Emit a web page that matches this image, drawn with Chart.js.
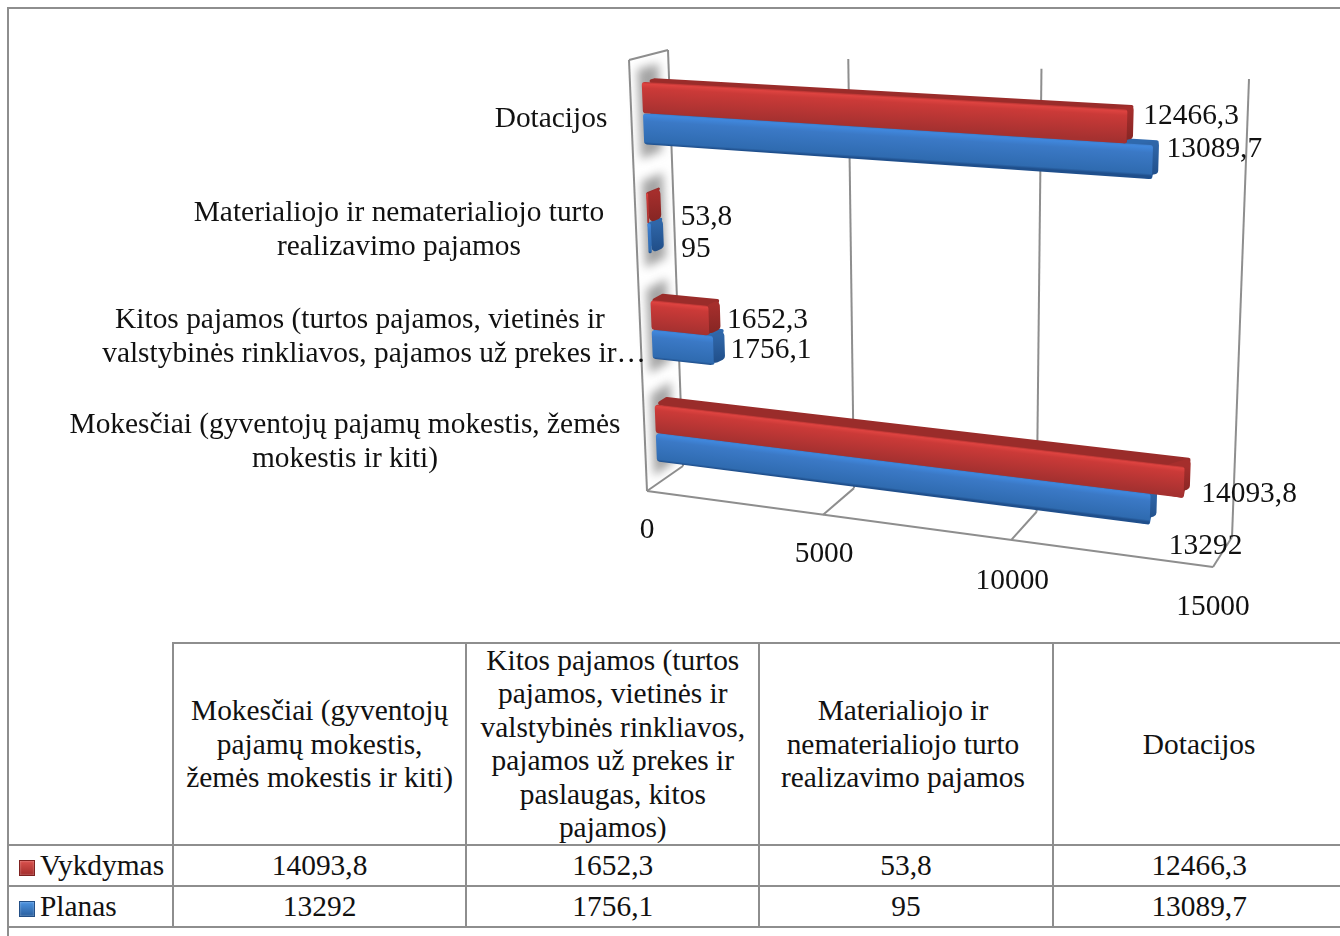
<!DOCTYPE html>
<html>
<head>
<meta charset="utf-8">
<script src="https://cdn.jsdelivr.net/npm/chart.js@4"></script>
<style>
  html, body { margin: 0; padding: 0; background: #fff; width: 1340px; height: 936px; overflow: hidden; }
  #frame { position: absolute; left: 7px; top: 7px; width: 1400px; height: 1000px; border: 2px solid #8e8e8e; box-sizing: border-box; }
  #chart { position: absolute; left: 0; top: 0; }
  #data-table { position: absolute; left: 7px; top: 642px; width: 1337.8px; table-layout: fixed; border-collapse: collapse;
    font: 29.4px/33.4px "Liberation Serif", serif; color: #111; }
  #data-table td { border: 2px solid #8e8e8e; text-align: center; vertical-align: middle; padding: 0; white-space: pre-line; box-sizing: border-box; }
  #data-table td.corner { border-top: none; border-left: none; }
  #data-table td.series { text-align: left; padding-left: 10px; white-space: nowrap; }
  .key { display: inline-block; width: 16px; height: 16px; margin-right: 5px; box-sizing: border-box; vertical-align: -1px; box-shadow: inset 0 0 2px rgba(255,255,255,0.5); }
</style>
</head>
<body>
<div id="frame"></div>
<canvas id="chart" width="1340" height="640"></canvas>
<table id="data-table"></table>
<script>
const categories = ['Mokesčiai', 'Kitos pajamos', 'Materialiojo ir nematerialiojo turto realizavimo pajamos', 'Dotacijos'];
const vykdymas = [14093.8, 1652.3, 53.8, 12466.3];
const planas = [13292, 1756.1, 95, 13089.7];
const axisTicks = [0, 5000, 10000, 15000];
const axisLabelLines = [
  ['Mokesčiai (gyventojų pajamų mokestis, žemės', 'mokestis ir kiti)'],
  ['Kitos pajamos (turtos pajamos, vietinės ir', 'valstybinės rinkliavos, pajamos už prekes ir…'],
  ['Materialiojo ir nematerialiojo turto', 'realizavimo pajamos'],
  ['Dotacijos'],
];
const tableHeaders = [
  'Mokesčiai (gyventojų\npajamų mokestis,\nžemės mokestis ir kiti)',
  'Kitos pajamos (turtos\npajamos, vietinės ir\nvalstybinės rinkliavos,\npajamos už prekes ir\npaslaugas, kitos\npajamos)',
  'Materialiojo ir\nnematerialiojo turto\nrealizavimo pajamos',
  'Dotacijos',
];

// where the 3d box lands on the page
const frontQuad = [[647, 491], [1213, 567], [1234, 92], [629, 60]];
const backQuad = [[683, 466], [1232, 537], [1249, 79], [668, 50]];
const barFront = 0.3;
const barBack = 0.62;
const serif = '"Liberation Serif", serif';
const gridColor = '#8e8e8e';
const textColor = '#111';

// text spots that are not tied to a bar
const labelSpots = [
  [[345, 425], [345, 459]],
  [[360, 320], [374, 354]],
  [[399, 213], [399, 247]],
  [[551, 119]],
];
const tickNudges = [[0, 39], [1, 40], [1, 41], [0, 40]];
// shifts of the value labels from the bar end, [planas, vykdymas]
const valueNudges = [
  [[12, 46], [11, 21]],
  [[6, 6], [7, 6]],
  [[18, 16], [20, 14]],
  [[8, -8], [10, -6]],
];

const redFace = [[0, '#b83432'], [0.06, '#de4340'], [0.2, '#cb3a38'], [1, '#a53130']];
const blueFace = [[0, '#3f80d0'], [0.06, '#4087dc'], [0.25, '#3b79c6'], [0.92, '#2f6bb0'], [1, '#1f4f8c']];

function squareToQuad(q) {
  const [[x0, y0], [x1, y1], [x2, y2], [x3, y3]] = q;
  const dx1 = x1 - x2, dx2 = x3 - x2, dx3 = x0 - x1 + x2 - x3;
  const dy1 = y1 - y2, dy2 = y3 - y2, dy3 = y0 - y1 + y2 - y3;
  const det = dx1 * dy2 - dx2 * dy1;
  const g = (dx3 * dy2 - dx2 * dy3) / det;
  const h = (dx1 * dy3 - dx3 * dy1) / det;
  const a = x1 - x0 + g * x1, b = x3 - x0 + h * x3;
  const d = y1 - y0 + g * y1, e = y3 - y0 + h * y3;
  return (u, v) => {
    const w = g * u + h * v + 1;
    return [(a * u + b * v + x0) / w, (d * u + e * v + y0) / w];
  };
}

const frontPlane = squareToQuad(frontQuad);
const backPlane = squareToQuad(backQuad);

function project(u, v, depth) {
  const f = frontPlane(u, v);
  const b = backPlane(u, v);
  return [f[0] + (b[0] - f[0]) * depth, f[1] + (b[1] - f[1]) * depth];
}

function roundedPath(ctx, pts, r) {
  const n = pts.length;
  ctx.beginPath();
  const m = [(pts[0][0] + pts[1][0]) / 2, (pts[0][1] + pts[1][1]) / 2];
  ctx.moveTo(m[0], m[1]);
  for (let i = 1; i <= n; i++) {
    const p = pts[i % n];
    const q = pts[(i + 1) % n];
    const len = Math.min(Math.hypot(p[0] - q[0], p[1] - q[1]), Math.hypot(p[0] - pts[i - 1][0], p[1] - pts[i - 1][1]));
    ctx.arcTo(p[0], p[1], q[0], q[1], Math.min(r, len / 2));
  }
  ctx.closePath();
}

function faceGradient(ctx, topLeft, topRight, bottomLeft, stops) {
  let nx = -(topRight[1] - topLeft[1]);
  let ny = topRight[0] - topLeft[0];
  const len = Math.hypot(nx, ny) || 1;
  nx /= len;
  ny /= len;
  const reach = (bottomLeft[0] - topLeft[0]) * nx + (bottomLeft[1] - topLeft[1]) * ny;
  const g = ctx.createLinearGradient(topLeft[0], topLeft[1], topLeft[0] + nx * reach, topLeft[1] + ny * reach);
  stops.forEach(([at, color]) => g.addColorStop(at, color));
  return g;
}

function barCorners(chart, bar) {
  const { left, width, top, height } = chart.chartArea;
  return {
    ue: (bar.x - left) / width,
    vTop: 1 - (bar.y - bar.height / 2 - top) / height,
    vBottom: 1 - (bar.y + bar.height / 2 - top) / height,
  };
}

function drawWallShadow(ctx, v0, v1) {
  ctx.save();
  ctx.filter = 'blur(5px)';
  ctx.fillStyle = 'rgba(105,105,105,0.6)';
  ctx.beginPath();
  const pts = [project(0, v0, 0.2), project(0, v0, 0.75), project(0, v1, 0.75), project(0, v1, 0.2)];
  pts.forEach((p, i) => (i ? ctx.lineTo(p[0], p[1]) : ctx.moveTo(p[0], p[1])));
  ctx.closePath();
  ctx.fill();
  ctx.restore();
}

function drawBar3d(ctx, c, stops, topColor, endColors) {
  const ft = project(0, c.vTop, barFront);
  const fr = project(c.ue, c.vTop, barFront);
  const fb = project(c.ue, c.vBottom, barFront);
  const fl = project(0, c.vBottom, barFront);
  const bt = project(0, c.vTop, barBack);
  const br = project(c.ue, c.vTop, barBack);
  const bb = project(c.ue, c.vBottom, barBack);

  // top and end run under the front face so the rounded corners leave no gap
  ctx.fillStyle = topColor;
  roundedPath(ctx, [bt, br, fb, ft], 2);
  ctx.fill();

  const end = ctx.createLinearGradient(fr[0], fr[1], fb[0], fb[1]);
  end.addColorStop(0, endColors[0]);
  end.addColorStop(1, endColors[1]);
  ctx.fillStyle = end;
  const inner = project(c.ue * 0.97, c.vTop, barFront);
  const innerLow = project(c.ue * 0.97, c.vBottom, barFront);
  roundedPath(ctx, [inner, br, bb, innerLow], 4);
  ctx.fill();

  ctx.fillStyle = faceGradient(ctx, ft, fr, fl, stops);
  roundedPath(ctx, [ft, fr, fb, fl], 3);
  ctx.fill();
}

const box3d = {
  id: 'box3d',
  beforeDatasetsDraw(chart) {
    const ctx = chart.ctx;
    const xScale = chart.scales.x;
    const gridLine = (a, b) => {
      ctx.beginPath();
      ctx.moveTo(a[0], a[1]);
      ctx.lineTo(b[0], b[1]);
      ctx.stroke();
    };

    ctx.save();
    ctx.strokeStyle = gridColor;
    ctx.lineWidth = 2;
    ctx.lineJoin = 'round';

    // left wall outline and floor edge
    gridLine(frontPlane(0, 0), frontPlane(0, 1));
    gridLine(frontPlane(0, 1), backPlane(0, 1));
    gridLine(backPlane(0, 1), backPlane(0, 0));
    gridLine(backPlane(0, 0), frontPlane(0, 0));
    gridLine(frontPlane(0, 0), frontPlane(1, 0));

    // grid from the real ticks
    const xLeft = chart.chartArea.left;
    const xWidth = chart.chartArea.width;
    xScale.ticks.forEach((tick) => {
      if (tick.value === 0) return;
      const u = (xScale.getPixelForValue(tick.value) - xLeft) / xWidth;
      gridLine(backPlane(u, 0), backPlane(u, 1));
      gridLine(backPlane(u, 0), frontPlane(u, 0));
    });

    const vykdymasBars = chart.getDatasetMeta(0).data;
    const planasBars = chart.getDatasetMeta(1).data;

    // soft shadow the bars leave on the wall
    categories.forEach((_, i) => {
      const a = barCorners(chart, planasBars[i]);
      const b = barCorners(chart, vykdymasBars[i]);
      const lo = Math.min(a.vTop, b.vTop, a.vBottom, b.vBottom) - 0.03;
      const hi = Math.max(a.vTop, b.vTop, a.vBottom, b.vBottom) + 0.03;
      drawWallShadow(ctx, lo, hi);
    });

    categories.forEach((_, i) => {
      drawBar3d(ctx, barCorners(chart, planasBars[i]), blueFace, '#2f69ad', ['#2f66a8', '#1f4c86']);
      drawBar3d(ctx, barCorners(chart, vykdymasBars[i]), redFace, '#9a2c2a', ['#a52e2c', '#842523']);
    });

    // texts
    ctx.fillStyle = textColor;
    ctx.font = '29.4px ' + serif;
    ctx.textBaseline = 'middle';
    ctx.textAlign = 'center';
    axisLabelLines.forEach((lines, i) => {
      lines.forEach((line, j) => {
        const [x, y] = labelSpots[i][j];
        ctx.fillText(line, x, y);
      });
    });
    axisTicks.forEach((tick, i) => {
      const u = (xScale.getPixelForValue(tick) - xLeft) / xWidth;
      const p = frontPlane(u, 0);
      ctx.fillText(String(tick), p[0] + tickNudges[i][0], p[1] + tickNudges[i][1]);
    });
    ctx.textAlign = 'left';
    [planasBars, vykdymasBars].forEach((bars, s) => {
      const values = s === 0 ? planas : vykdymas;
      bars.forEach((bar, i) => {
        const c = barCorners(chart, bar);
        const p = project(c.ue, (c.vTop + c.vBottom) / 2, barBack);
        const nudge = valueNudges[i][s];
        ctx.fillText(String(values[i]).replace('.', ','), p[0] + nudge[0], p[1] + nudge[1]);
      });
    });
    ctx.restore();
    return false;
  },
};

new Chart(document.getElementById('chart'), {
  type: 'bar',
  data: {
    labels: categories,
    datasets: [
      { label: 'Vykdymas', data: vykdymas, backgroundColor: '#cb3a38' },
      { label: 'Planas', data: planas, backgroundColor: '#3b79c6' },
    ],
  },
  options: {
    indexAxis: 'y',
    responsive: false,
    animation: false,
    categoryPercentage: 0.56,
    barPercentage: 1,
    plugins: { legend: { display: false }, tooltip: { enabled: false } },
    scales: {
      x: { min: 0, max: 15000, ticks: { stepSize: 5000 }, display: false },
      y: { reverse: true, display: false },
    },
  },
  plugins: [box3d],
});

// data table under the chart
function buildTable() {
  const table = document.getElementById('data-table');
  const colWidths = [165, 293.2, 293.2, 293.2, 293.2];
  const colgroup = document.createElement('colgroup');
  colWidths.forEach((w) => {
    const col = document.createElement('col');
    col.style.width = w + 'px';
    colgroup.appendChild(col);
  });
  table.appendChild(colgroup);

  const head = table.insertRow();
  head.style.height = '201px';
  const corner = head.insertCell();
  corner.className = 'corner';
  tableHeaders.forEach((text, i) => {
    const cell = head.insertCell();
    cell.textContent = text;
    if (i === 2) cell.style.paddingRight = '6px';
  });

  const rows = [
    ['Vykdymas', vykdymas, 'linear-gradient(#d9504c, #a32e2c)', '#7f2220'],
    ['Planas', planas, 'linear-gradient(#4c93e0, #2a5f9f)', '#234f86'],
  ];
  rows.forEach(([name, values, fill, edge]) => {
    const row = table.insertRow();
    row.style.height = '41px';
    const cell = row.insertCell();
    cell.className = 'series';
    const key = document.createElement('span');
    key.className = 'key';
    key.style.background = fill;
    key.style.border = '1px solid ' + edge;
    cell.appendChild(key);
    cell.appendChild(document.createTextNode(name));
    values.forEach((v) => {
      row.insertCell().textContent = String(v).replace('.', ',');
    });
  });
}
buildTable();
</script>
</body>
</html>
